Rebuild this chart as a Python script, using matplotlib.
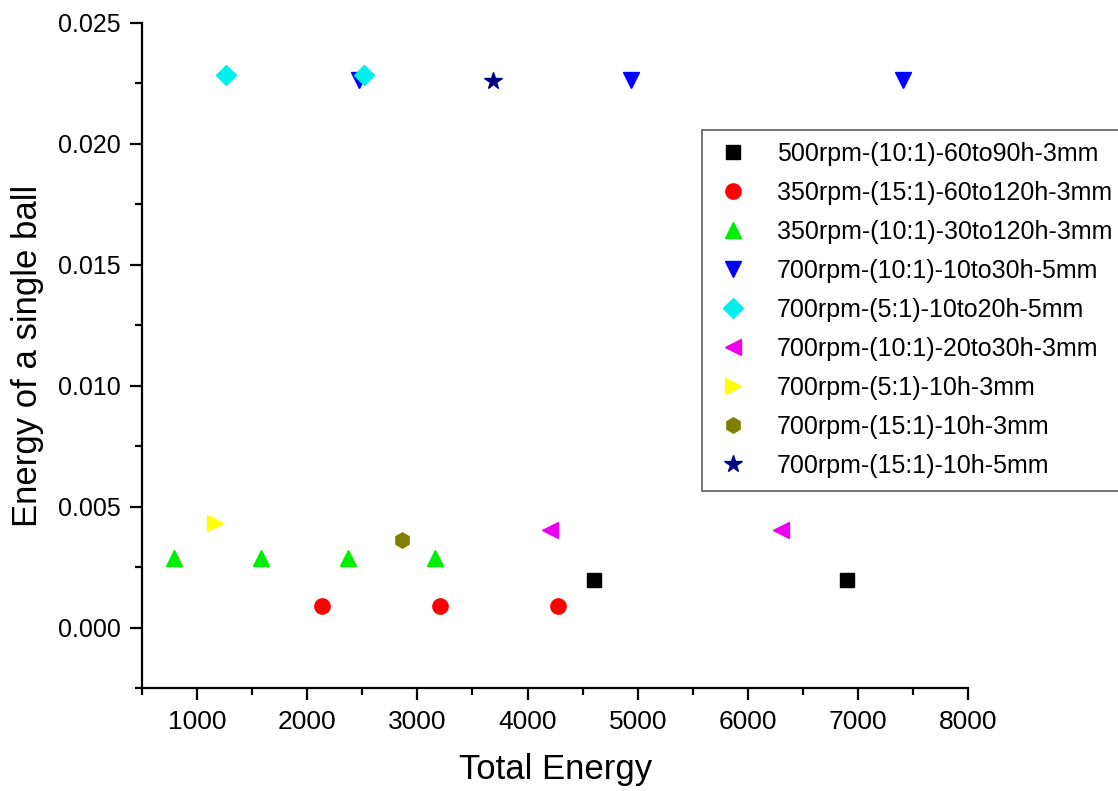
import matplotlib.pyplot as plt
from matplotlib.ticker import MultipleLocator

plt.rcParams['font.family'] = ['Liberation Sans', 'DejaVu Sans']

# data (x = total energy, y = energy of a single ball)
x_500_10_3 = [4600, 6900]
y_500_10_3 = [0.00198, 0.00198]

x_350_15_3 = [2136, 3204, 4272]
y_350_15_3 = [0.00091, 0.00091, 0.00091]

x_350_10_3 = [791, 1582, 2373, 3164]
y_350_10_3 = [0.0029, 0.0029, 0.0029, 0.0029]

x_700_10_5 = [2470, 4940, 7410]
y_700_10_5 = [0.02264, 0.02264, 0.02264]

x_700_5_5 = [1260, 2515]
y_700_5_5 = [0.02285, 0.02285]

x_700_10_3 = [4200, 6300]
y_700_10_3 = [0.00402, 0.00402]

x_700_5_3h = [1160]
y_700_5_3h = [0.00432]

x_700_15_3 = [2860]
y_700_15_3 = [0.00362]

x_700_15_5 = [3690]
y_700_15_5 = [0.02258]

labels = ['500rpm-(10:1)-60to90h-3mm', '350rpm-(15:1)-60to120h-3mm',
          '350rpm-(10:1)-30to120h-3mm', '700rpm-(10:1)-10to30h-5mm',
          '700rpm-(5:1)-10to20h-5mm', '700rpm-(10:1)-20to30h-3mm',
          '700rpm-(5:1)-10h-3mm', '700rpm-(15:1)-10h-3mm',
          '700rpm-(15:1)-10h-5mm']

fig = plt.figure(figsize=(11.18, 7.91), dpi=100)
ax = fig.add_axes([0.127, 0.130, 0.739, 0.841])

ax.plot(x_500_10_3, y_500_10_3, 's', color='black', ms=10, label=labels[0])
ax.plot(x_350_15_3, y_350_15_3, 'o', color='red', ms=11, label=labels[1])
ax.plot(x_350_10_3, y_350_10_3, '^', color='#00ee00', ms=12, label=labels[2])
ax.plot(x_700_10_5, y_700_10_5, 'v', color='#0000ff', ms=12, label=labels[3])
ax.plot(x_700_5_5, y_700_5_5, 'D', color='#00f0f0', ms=10.5, label=labels[4])
ax.plot(x_700_10_3, y_700_10_3, '<', color='#ee00ee', ms=12, label=labels[5])
ax.plot(x_700_5_3h, y_700_5_3h, '>', color='#ffff00', ms=12, label=labels[6])
ax.plot(x_700_15_3, y_700_15_3, 'h', color='#808000', ms=11, label=labels[7])
ax.plot(x_700_15_5, y_700_15_5, '*', color='#000080', ms=13, label=labels[8])

ax.set_xlim(500, 8000)
ax.set_ylim(-0.0025, 0.025)
ax.xaxis.set_major_locator(MultipleLocator(1000))
ax.xaxis.set_minor_locator(MultipleLocator(500))
ax.yaxis.set_major_locator(MultipleLocator(0.005))
ax.yaxis.set_minor_locator(MultipleLocator(0.0025))
ax.yaxis.set_major_formatter(plt.FormatStrFormatter('%.3f'))

for side in ['top', 'right']:
    ax.spines[side].set_visible(False)
for side in ['left', 'bottom']:
    ax.spines[side].set_linewidth(1.6)

ax.tick_params(which='major', length=8.5, width=1.6, labelsize=18, pad=7)
ax.tick_params(axis='x', which='major', labelsize=19)
ax.tick_params(which='minor', length=5, width=1.6)

ax.set_xlabel('Total Energy', fontsize=25, labelpad=14)
ax.set_ylabel('Energy of a single ball', fontsize=25, labelpad=10)

leg = ax.legend(loc='upper left', bbox_to_anchor=(0.628, 0.836),
                bbox_transform=fig.transFigure, fontsize=18, fancybox=False,
                edgecolor='#333333', handletextpad=1.0, borderpad=0.5,
                borderaxespad=0, labelspacing=0.6, handlelength=1.5,
                numpoints=1)
leg.get_frame().set_linewidth(1.2)

fig.savefig('out.png', dpi=100)
